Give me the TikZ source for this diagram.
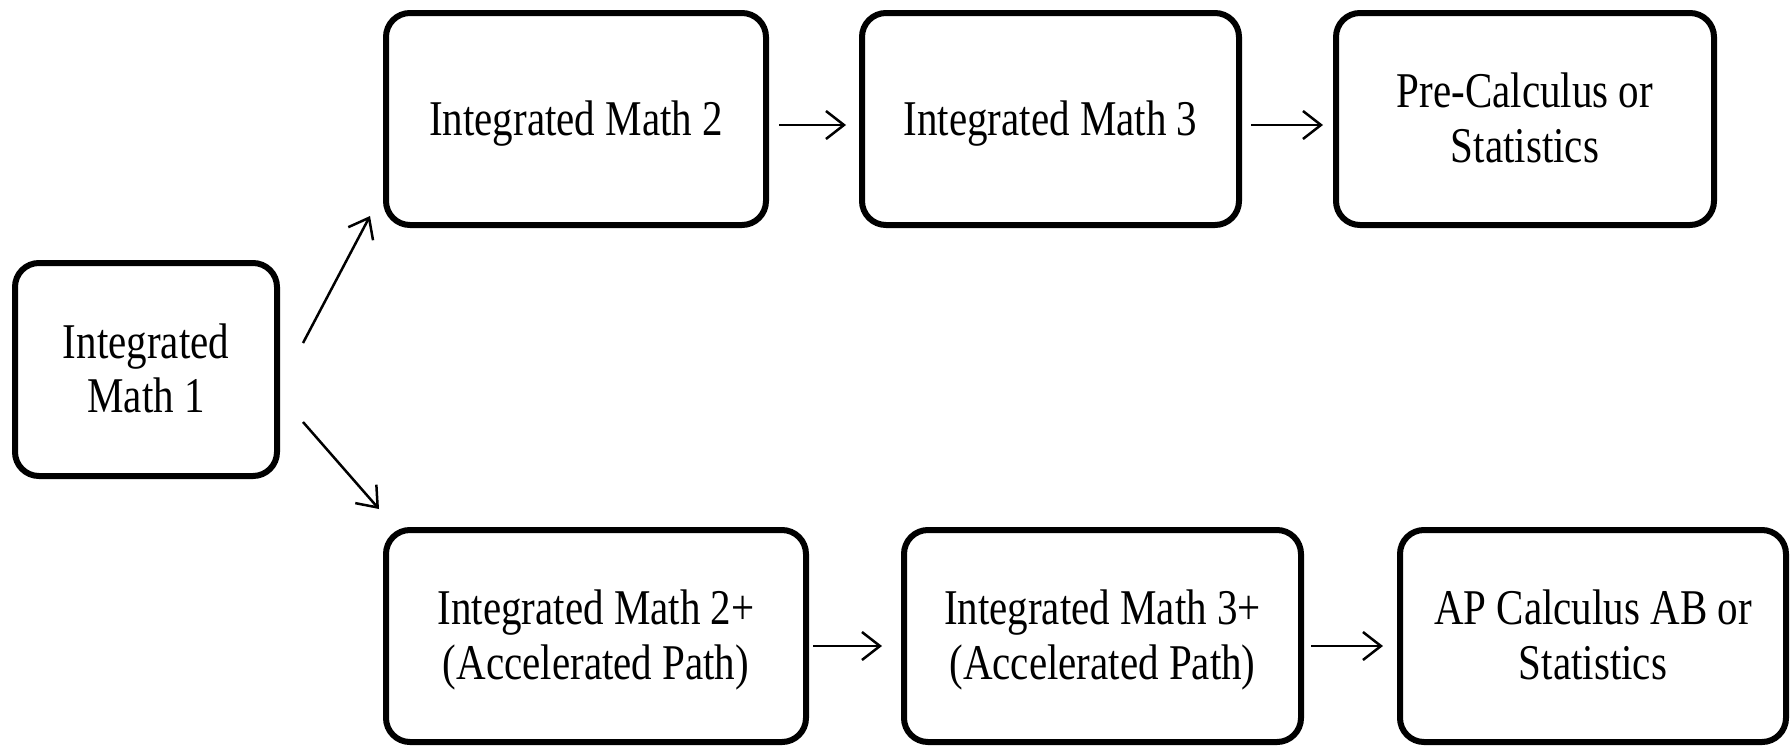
\documentclass[tikz,border=0pt]{standalone}
\usepackage{fontspec}
\usepackage{graphicx}
\setmainfont{Liberation Serif}
\usetikzlibrary{arrows.meta}
\newcommand{\bt}[1]{\scalebox{1}[1.22]{\raisebox{-4.3pt}[\height][\depth]{\begin{tabular}{@{}c@{}}#1\end{tabular}}}}
\begin{document}
\begin{tikzpicture}[x=1pt,y=-1pt,
  box/.style={draw=black, line width=6pt, rounded corners=24pt, fill=white,
    inner sep=0pt, minimum height=212pt, font=\fontsize{41}{44.5}\selectfont, align=center},
  arr/.style={line width=2.5pt, -{Straight Barb[length=18pt,width=28pt,line width=2.5pt]}}]
\useasboundingbox (0,0) rectangle (1792,748);
\fill[white] (0,0) rectangle (1792,748);
\node[box, minimum width=262pt, minimum height=213pt] (m1) at (146,369.5) {\bt{Integrated\\Math 1}};
\node[box, minimum width=380pt] (m2) at (576,119) {\bt{Integrated Math 2}};
\node[box, minimum width=377pt] (m3) at (1050.5,119) {\bt{Integrated Math 3}};
\node[box, minimum width=378pt] (pc) at (1525,119) {\bt{Pre-Calculus or\\Statistics}};
\node[box, minimum width=420pt] (m2p) at (596,636) {\bt{Integrated Math 2+\\(Accelerated Path)}};
\node[box, minimum width=397pt] (m3p) at (1102.5,636) {\bt{Integrated Math 3+\\(Accelerated Path)}};
\node[box, minimum width=386pt] (ap) at (1593,636) {\bt{AP Calculus AB or\\Statistics}};
\draw[arr] ([xshift=23pt,yshift=26.5pt]m1.east) -- ([xshift=-13pt,yshift=12pt]m2.south west);
\draw[arr] ([xshift=23pt,yshift=-52.5pt]m1.east) -- ([xshift=-4pt,yshift=18pt]m2p.north west);
\draw[arr, shorten <=10pt, shorten >=13pt] ([yshift=-6pt]m2.east) -- ([yshift=-6pt]m3.west);
\draw[arr, shorten <=9pt, shorten >=10pt] ([yshift=-6pt]m3.east) -- ([yshift=-6pt]pc.west);
\draw[arr, shorten <=4pt, shorten >=19pt] ([yshift=-10pt]m2p.east) -- ([yshift=-10pt]m3p.west);
\draw[arr, shorten <=7pt, shorten >=14pt] ([yshift=-10pt]m3p.east) -- ([yshift=-10pt]ap.west);
\end{tikzpicture}
\end{document}
